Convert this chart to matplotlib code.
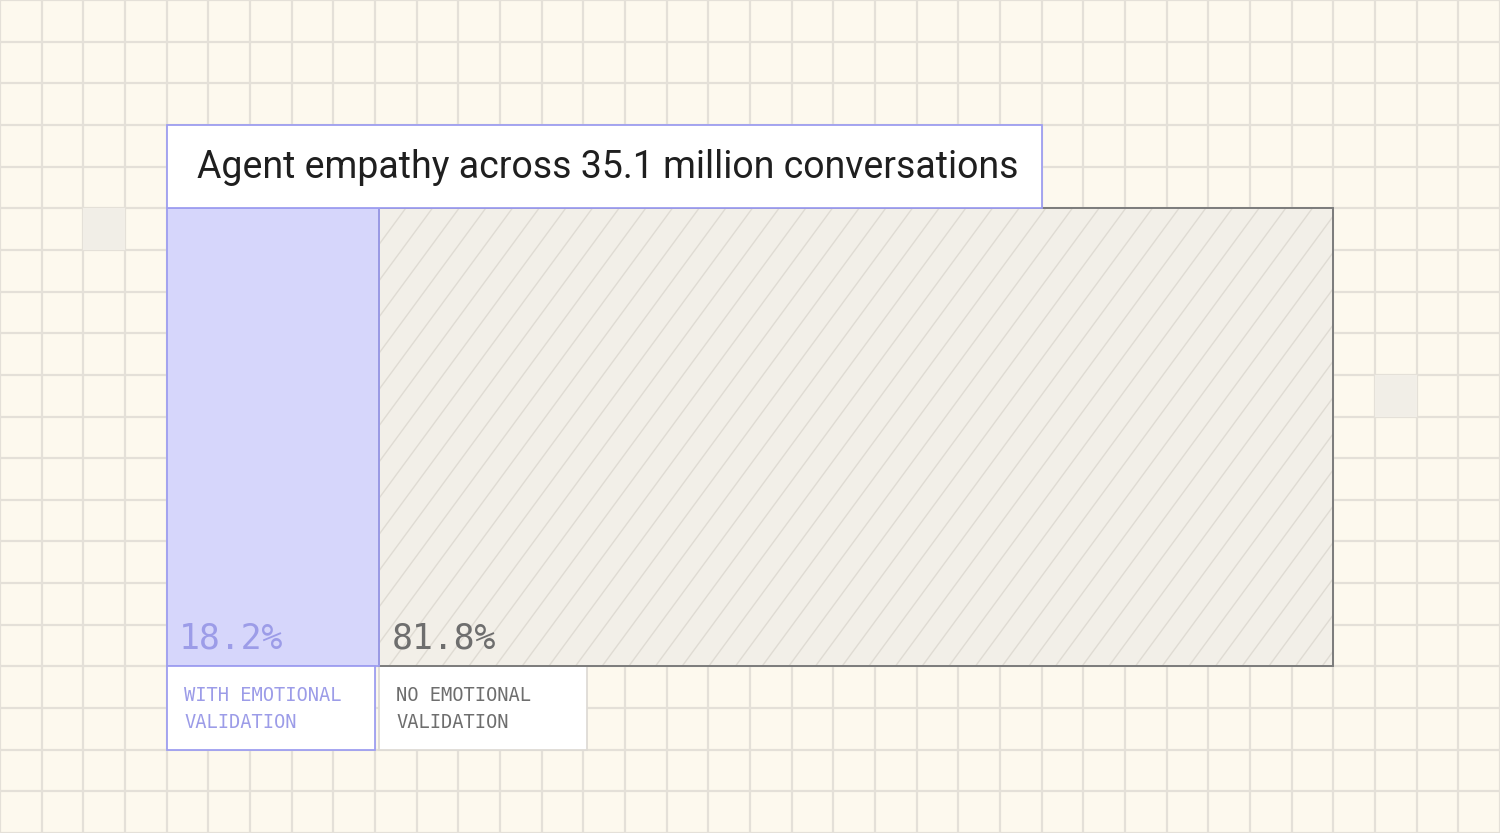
import numpy as np
import matplotlib.pyplot as plt
from matplotlib.patches import Rectangle

# 数据
title = "Agent empathy across 35.1 million conversations"
categories = ["WITH EMOTIONAL\nVALIDATION", "NO EMOTIONAL\nVALIDATION"]
shares = [18.2, 81.8]
value_labels = ["18.2%", "81.8%"]

# 颜色
bg = "#fdf9ee"
grid_c = "#e4e0d8"
cell_c = "#f1eee7"
purple_fill = "#d6d6fb"
purple_edge = "#9e9ef0"
purple_text = "#9c9ce8"
gray_fill = "#f2efe8"
gray_edge = "#7b7b7b"
gray_text = "#6e6e6e"
hatch_c = "#dfdbd3"

fig = plt.figure(figsize=(15, 8.33), dpi=100)
fig.patch.set_facecolor(bg)
ax = fig.add_axes([0, 0, 1, 1])
ax.set_xlim(0, 36)
ax.set_ylim(20, 0)
ax.axis("off")

# 背景网格
for k in range(37):
    ax.axvline(k, color=grid_c, lw=1.6, zorder=0)
for k in range(21):
    ax.axhline(k, color=grid_c, lw=1.6, zorder=0)
for cx, cy in [(2, 5), (33, 9)]:
    ax.add_patch(Rectangle((cx, cy), 1, 1, fc=cell_c, ec="none", zorder=0.5))

x0, x1 = 4, 32
y_top, y_bot = 5, 16
span = x1 - x0

# 标题框
ax.add_patch(Rectangle((x0, 3), 21, 2, fc="white", ec=purple_edge, lw=1.3, zorder=3))
ax.text(x0 + 0.72, 4.02, title, fontsize=27, family="Roboto", color="#1f1f1f",
        va="center", ha="left", zorder=4)

# 堆叠条形
lefts = np.concatenate([[0], np.cumsum(shares)[:-1]]) / 100 * span + x0
widths = np.array(shares) / 100 * span
fills = [purple_fill, gray_fill]
edges = [purple_edge, gray_edge]
texts = [purple_text, gray_text]
ymid = (y_top + y_bot) / 2
h = y_bot - y_top

bars = ax.barh([ymid] * 2, widths, left=lefts, height=h, color=fills,
               edgecolor="none", zorder=2)
# 边框单独画在斜线上面
ax.barh([ymid], widths[1:], left=lefts[1:], height=h, color="none",
        edgecolor=gray_edge, linewidth=1.4, zorder=2.6)
ax.barh([ymid], widths[:1], left=lefts[:1], height=h, color="none",
        edgecolor=purple_edge, linewidth=1.3, zorder=2.7)

# 斜线纹理
gray_bar = bars[1]
slope = 1.36
step = 0.64
start = lefts[1] - h / slope
for c in np.arange(start, x1 + step, step):
    ln, = ax.plot([c, c + h / slope], [y_bot, y_top], color=hatch_c, lw=1.0, zorder=2.2)
    ln.set_clip_path(gray_bar)

# 数值与类别标签
for i in range(2):
    ax.text(lefts[i] + 0.3, y_bot - 0.68, value_labels[i], fontsize=25,
            family="DejaVu Sans Mono", color=texts[i], va="center", ha="left", zorder=4)
    ax.add_patch(Rectangle((lefts[i], y_bot), 5, 2, fc="white",
                           ec=purple_edge if i == 0 else "#dedbd5", lw=1.3,
                           zorder=3 if i == 0 else 1.5))
    ax.text(lefts[i] + 0.42, y_bot + 1.02, categories[i], fontsize=13.5,
            family="DejaVu Sans Mono", color=texts[i], va="center", ha="left",
            linespacing=1.55, zorder=4)

fig.savefig("out.png", dpi=100, facecolor=bg)
